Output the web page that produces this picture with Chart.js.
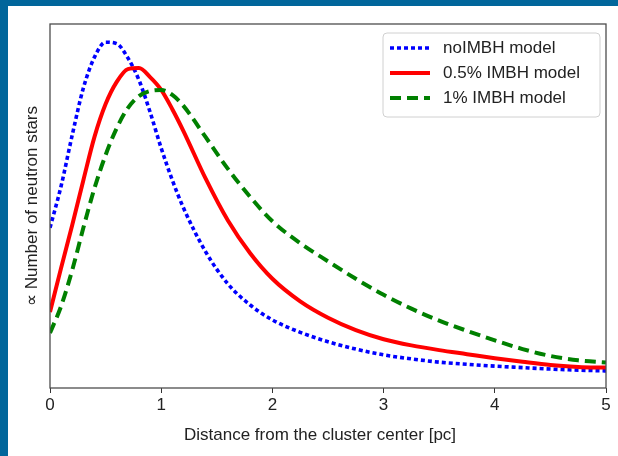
<!DOCTYPE html>
<html>
<head>
<meta charset="utf-8">
<script src="https://cdn.jsdelivr.net/npm/chart.js@4"></script>
<style>
  html, body { margin: 0; padding: 0; background: #fff; }
  #wrap { position: relative; width: 618px; height: 456px; overflow: hidden; }
  #bandTop { position: absolute; left: 0; top: 0; width: 618px; height: 6px; background: #01669b; }
  #bandLeft { position: absolute; left: 0; top: 0; width: 8px; height: 456px; background: #01669b; }
  canvas { position: absolute; left: 0; top: 0; }
</style>
</head>
<body>
<div id="wrap">
  <canvas id="chart" width="618" height="456"></canvas>
  <div id="bandTop"></div>
  <div id="bandLeft"></div>
</div>
<script>
// DATA
const distance = [0, 0.1, 0.2, 0.3, 0.4, 0.5, 0.6, 0.7, 0.8, 0.9, 1.0, 1.1, 1.2, 1.4, 1.6, 1.8,
                  2.0, 2.25, 2.5, 2.75, 3.0, 3.25, 3.5, 3.75, 4.0, 4.25, 4.5, 4.75, 5.0];
const noImbh = [44.0, 55.5, 69.5, 82.4, 90.9, 95.0, 94.6, 90.7, 84.6, 75.8, 65.9, 57.1, 49.5, 37.4, 28.6, 22.8,
                18.7, 15.3, 12.7, 10.7, 9.1, 8.0, 7.1, 6.5, 6.0, 5.6, 5.2, 4.9, 4.7];
const imbh05 = [20.9, 33.0, 44.8, 57.1, 69.0, 78.0, 84.1, 87.6, 87.9, 85.4, 81.9, 76.6, 70.6, 57.5, 46.0, 37.0,
                30.0, 23.8, 19.3, 15.9, 13.4, 11.7, 10.4, 9.3, 8.2, 7.2, 6.3, 5.8, 5.6];
const imbh1 = [15.1, 22.5, 32.4, 44.0, 54.9, 64.0, 71.4, 76.9, 80.2, 81.6, 81.9, 80.5, 77.5, 68.9, 60.2, 52.5,
               45.8, 39.8, 34.8, 30.0, 25.6, 21.8, 18.5, 15.7, 13.1, 10.7, 8.8, 7.6, 7.0];
const seriesNames = ["noIMBH model", "0.5% IMBH model", "1% IMBH model"];
const xTicks = [0, 1, 2, 3, 4, 5];
const xTitle = "Distance from the cluster center [pc]";
const yTitle = "\u221D Number of neutron stars";

const FONT = "'Liberation Sans', Arial, sans-serif";
const TEXT = "#222";

function pts(ys) {
    return distance.map((x, i) => ({ x: x, y: ys[i] }));
}

// frame + x title + legend
const extras = {
    id: "extras",
    afterDraw(chart) {
        const c = chart.ctx;
        const a = chart.chartArea;
        c.save();
        c.strokeStyle = "#4d4d4d";
        c.lineWidth = 1.3;
        c.strokeRect(a.left, a.top, a.right - a.left, a.bottom - a.top);

        c.fillStyle = TEXT;
        c.font = "17px " + FONT;
        c.textAlign = "center";
        c.textBaseline = "middle";
        c.fillText(xTitle, 320, 435);

        // legend box
        const bx = 383, by = 33, bw = 217, bh = 84, r = 4;
        c.beginPath();
        c.moveTo(bx + r, by);
        c.arcTo(bx + bw, by, bx + bw, by + bh, r);
        c.arcTo(bx + bw, by + bh, bx, by + bh, r);
        c.arcTo(bx, by + bh, bx, by, r);
        c.arcTo(bx, by, bx + bw, by, r);
        c.closePath();
        c.fillStyle = "rgba(255,255,255,0.85)";
        c.fill();
        c.strokeStyle = "#d0d0d0";
        c.lineWidth = 1;
        c.stroke();

        chart.data.datasets.forEach((ds, i) => {
            const y = 48 + i * 25;
            c.beginPath();
            c.setLineDash(ds.borderDash || []);
            c.lineDashOffset = 0;
            c.strokeStyle = ds.borderColor;
            c.lineWidth = ds.borderWidth;
            c.moveTo(390, y);
            c.lineTo(430, y);
            c.stroke();
            c.setLineDash([]);
            c.fillStyle = TEXT;
            c.textAlign = "left";
            c.fillText(ds.label, 443, y);
        });
        c.restore();
    }
};

new Chart(document.getElementById("chart"), {
    type: "line",
    data: {
        datasets: [
            { label: seriesNames[0], data: pts(noImbh), borderColor: "#0000ff", borderWidth: 3.6,
              borderDash: [4, 3], order: 3 },
            { label: seriesNames[1], data: pts(imbh05), borderColor: "#ff0000", borderWidth: 4,
              order: 2 },
            { label: seriesNames[2], data: pts(imbh1), borderColor: "#008000", borderWidth: 4,
              borderDash: [11, 6], order: 1 }
        ]
    },
    options: {
        responsive: false,
        animation: false,
        cubicInterpolationMode: "monotone",
        elements: { point: { radius: 0 }, line: { borderCapStyle: "butt" } },
        layout: { padding: { left: 0, top: 24, right: 12, bottom: 0 } },
        plugins: { legend: { display: false }, tooltip: { enabled: false } },
        scales: {
            x: {
                type: "linear",
                min: 0,
                max: 5,
                afterBuildTicks: (s) => { s.ticks = xTicks.map(v => ({ value: v })); },
                afterFit: (s) => { s.height = 68; },
                border: { display: false },
                grid: { display: true, drawOnChartArea: false, drawTicks: true, tickLength: 5,
                        color: "#333", lineWidth: 1 },
                ticks: { color: TEXT, padding: 2, font: { family: FONT, size: 17 },
                         maxRotation: 0 }
            },
            y: {
                min: 0,
                max: 100,
                afterFit: (s) => { s.width = 50; },
                border: { display: false },
                grid: { display: false },
                ticks: { display: false },
                title: { display: true, text: yTitle, color: TEXT,
                         font: { family: FONT, size: 17 }, padding: { top: 22, bottom: 0 } }
            }
        }
    },
    plugins: [extras]
});
</script>
</body>
</html>
